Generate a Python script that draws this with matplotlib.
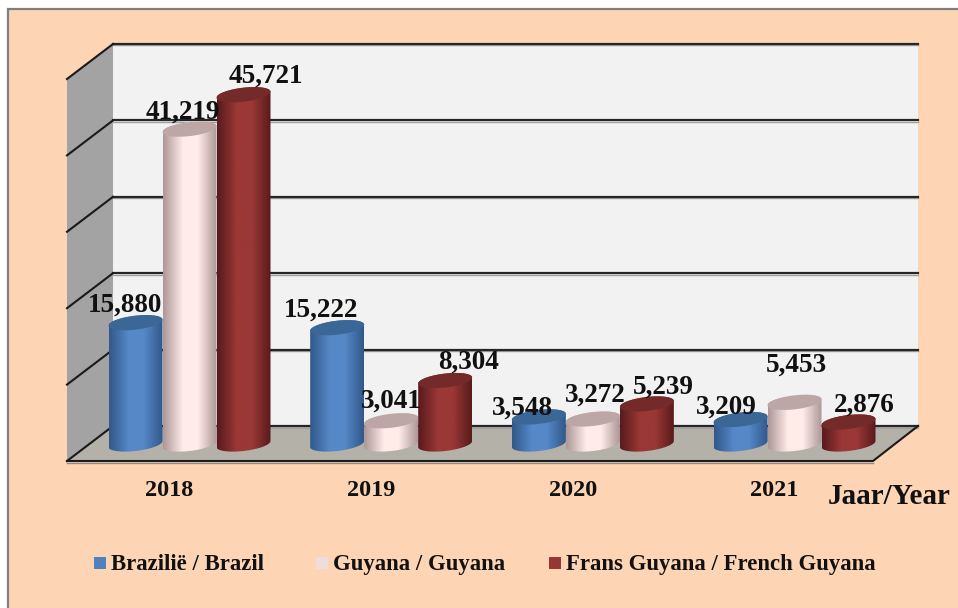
import numpy as np
import matplotlib
matplotlib.use("Agg")
import matplotlib.pyplot as plt
from matplotlib.colors import LinearSegmentedColormap
from matplotlib.patches import Polygon, Rectangle
from matplotlib.transforms import Affine2D

years = ["2018", "2019", "2020", "2021"]
series_names = ["Brazilië / Brazil", "Guyana / Guyana", "Frans Guyana / French Guyana"]
brazil = [15880, 15222, 3548, 3209]
guyana = [41219, 3041, 3272, 5453]
french_guyana = [45721, 8304, 5239, 2876]
grid_values = [0, 10000, 20000, 30000, 40000, 50000]

W, H = 958, 608
PX_X = 1 / 201.67   # category units per pixel
PX_Y = 10000 / 76.4  # value units per pixel
X0_PX, Y0_PX = 189.5, 444  # pixel of category 0 / value 0

body_cols = [("#32598A", "#5688C8"), ("#AE9898", "#FFECE9"), ("#591B1B", "#9A3836")]
top_cols = ["#3A6796", "#BCA6A6", "#752A2A"]
legend_cols = ["#4F81BD", "#F2DCDB", "#953735"]

# label offset from cylinder top in pixels (dx, dy up)
label_offsets = [
    [(-10, 18), (-16, 18), (-16, 9), (-14, 12)],
    [(-7, 17), (0, 20), (2, 24), (2, 37)],
    [(22, 19), (23, 18), (16, 17), (16, 17)],
]

fig = plt.figure(figsize=(W / 100, H / 100), dpi=100, facecolor="white")
ax = fig.add_axes([0, 0, 1, 1])
ax.set_axis_off()
xlim = (-X0_PX * PX_X, (W - X0_PX) * PX_X)
ylim = (-(H - Y0_PX) * PX_Y, Y0_PX * PX_Y)

# pixel coords with top-left origin, for the frame and the walls
pix = Affine2D().scale(1, -1).translate(0, H)

ax.add_patch(Rectangle((8, 9), W, H, transform=pix, fc="#FDD5B5", ec="#7F7F7F", lw=1.6, zorder=0))

# walls
back_l, back_r, back_b = 113, 918, 426
front_l, front_r, front_b = 67, 873, 461
wall_h = 76.4
ax.add_patch(Polygon([(back_l, back_b - 5 * wall_h), (back_r, back_b - 5 * wall_h), (back_r, back_b), (back_l, back_b)],
                     transform=pix, fc="#F2F2F2", ec="none", zorder=1))
ax.add_patch(Polygon([(front_l, front_b - 5 * wall_h), (back_l, back_b - 5 * wall_h), (back_l, back_b), (front_l, front_b)],
                     transform=pix, fc="#A3A3A3", ec="none", zorder=1))
ax.add_patch(Polygon([(front_l, front_b), (back_l, back_b), (back_r, back_b), (front_r, front_b)],
                     transform=pix, fc="#B4B1A9", ec="none", zorder=1))
for v in grid_values:
    dy = v / PX_Y
    ax.plot([back_l, back_r], [back_b - dy + 1.5] * 2, transform=pix, color="#A0A0A0", lw=1, zorder=2)
    ax.plot([back_l, back_r], [back_b - dy] * 2, transform=pix, color="#262626", lw=1.6, zorder=2)
    ax.plot([front_l, back_l], [front_b - dy, back_b - dy], transform=pix, color="#1A1A1A", lw=1.5, zorder=2)
ax.plot([front_l, front_r], [front_b + 1.5] * 2, transform=pix, color="#8A8A8A", lw=1, zorder=2)
ax.plot([front_l, front_r, back_r], [front_b, front_b, back_b], transform=pix, color="#1A1A1A", lw=1.5, zorder=2)


def cylinder(cx, value, s, z):
    half_w = 27 * PX_X
    half_h = 7 * PX_Y
    tilt = 3 * PX_Y
    t = np.linspace(0, 2 * np.pi, 80)
    ex = half_w * np.cos(t)
    ey = half_h * np.sin(t) + tilt * np.cos(t)
    # lower half of base, then upper half of top
    low = np.sin(t) <= 0
    up = np.sin(t) >= 0
    order = np.argsort(ex[low])
    bx, by = ex[low][order], ey[low][order]
    order = np.argsort(-ex[up])
    ux, uy = ex[up][order], ey[up][order]
    outline = np.column_stack([np.r_[bx, ux] + cx, np.r_[by, uy + value]])
    body = Polygon(outline, transform=ax.transData, fc="none", ec="none")
    ax.add_patch(body)
    cmap = LinearSegmentedColormap.from_list("c", [body_cols[s][0], body_cols[s][1], body_cols[s][1], body_cols[s][0]])
    grad = np.interp(np.linspace(0, 1, 60), [0, 0.4, 0.6, 1], [0, 0.36, 0.62, 1]).reshape(1, -1)
    im = ax.imshow(grad, cmap=cmap, extent=(cx - half_w, cx + half_w, -half_h * 2, value + half_h * 2),
                   aspect="auto", interpolation="bilinear", zorder=z)
    im.set_clip_path(body)
    ax.add_patch(Polygon(np.column_stack([ex + cx, ey + value]), fc=top_cols[s], ec="none", zorder=z))


values = [brazil, guyana, french_guyana]
group_dx = 54 * PX_X
z = 3
for i in range(len(years)):
    for s in range(len(series_names)):
        cx = i + (s - 1) * group_dx
        cylinder(cx, values[s][i], s, z)
        z += 1

label_font = dict(family="Liberation Serif", fontweight="bold", color="#111111")
for s in range(len(series_names)):
    for i in range(len(years)):
        cx = i + (s - 1) * group_dx
        ax.annotate(f"{values[s][i]:,}", (cx, values[s][i]), xytext=label_offsets[s][i],
                    textcoords="offset pixels", ha="center", va="center", fontsize=19.5, zorder=50, **label_font)

# category labels sit left of the group centre because of the depth shift
for i, y in enumerate(years):
    ax.text(i - 20 * PX_X, ylim[0] + (H - 490.5) * PX_Y, y, ha="center", va="center", fontsize=17.5, zorder=50, **label_font)
ax.text(889.5, 496.5, "Jaar/Year", transform=pix, ha="center", va="center", fontsize=21, zorder=50, **label_font)

# legend
legend_x = [94, 316, 549]
for s, name in enumerate(series_names):
    ax.add_patch(Rectangle((legend_x[s], 557), 12, 12, transform=pix, fc=legend_cols[s], ec="none", zorder=50))
    ax.text(legend_x[s] + 17, 564.5, name, transform=pix, ha="left", va="center", fontsize=16.4, zorder=50, **label_font)

ax.set_xlim(xlim)
ax.set_ylim(ylim)
fig.savefig("out.png", dpi=100, facecolor="white")
